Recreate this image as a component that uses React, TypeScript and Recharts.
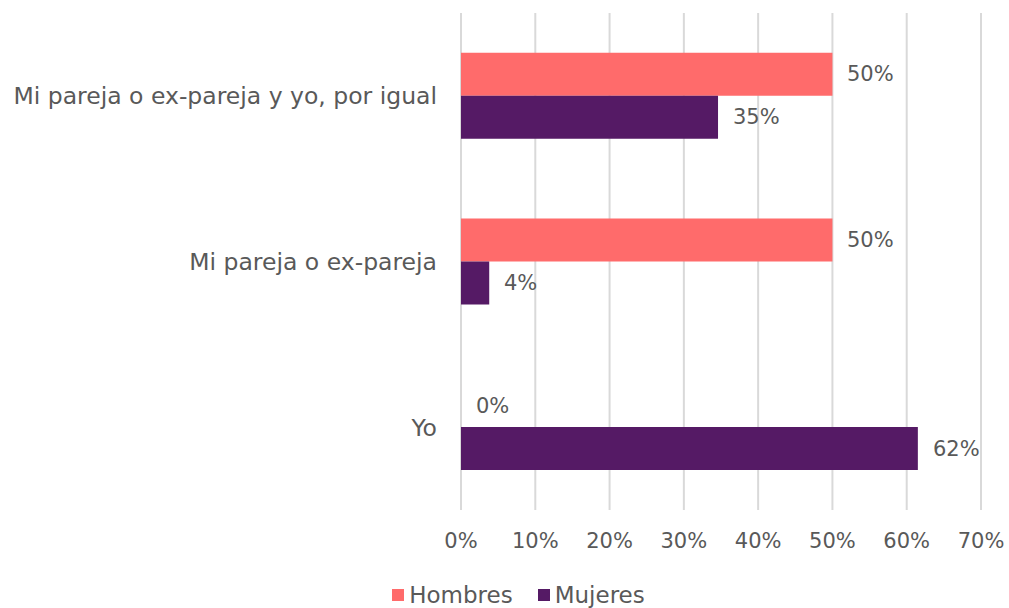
import { BarChart, Bar, XAxis, YAxis, CartesianGrid, Legend, LabelList } from 'recharts'

const categories = ['Mi pareja o ex-pareja y yo, por igual', 'Mi pareja o ex-pareja', 'Yo']
const hombres = [0.5, 0.5, 0]
const mujeres = [0.346, 0.038, 0.615]
const xTicks = [0, 0.1, 0.2, 0.3, 0.4, 0.5, 0.6, 0.7]

const GRAY = '#595959'
const FONT = "'DejaVu Sans', sans-serif"
const COLORS = { Hombres: '#ff6b6b', Mujeres: '#551a65' }

const data = categories.map((name, i) => ({
  name,
  Hombres: hombres[i],
  Mujeres: mujeres[i],
}))

const pct = (v: number) => `${Math.round(v * 100)}%`

const renderValue = (props: any) => {
  const { x, y, width, height, value } = props
  return (
    <text
      x={Number(x) + Math.round(Number(width)) + 15}
      y={Number(y) + Number(height) / 2}
      dominantBaseline="central"
      fill={GRAY}
      fontSize={21}
      fontFamily={FONT}
    >
      {pct(Number(value))}
    </text>
  )
}

const renderLegend = () => (
  <div style={{ display: 'flex', justifyContent: 'center', gap: 25, paddingTop: 10, paddingLeft: 56 }}>
    {(['Hombres', 'Mujeres'] as const).map((k) => (
      <div key={k} style={{ display: 'flex', alignItems: 'center', gap: 5 }}>
        <span style={{ width: 12, height: 12, background: COLORS[k], display: 'inline-block' }} />
        <span style={{ color: GRAY, fontSize: 23, fontFamily: FONT }}>{k}</span>
      </div>
    ))}
  </div>
)

export default function App() {
  return (
    <div style={{ position: 'absolute', left: 0, top: 0, background: '#fff', fontFamily: FONT }}>
      <BarChart
        width={1009}
        height={608}
        data={data}
        layout="vertical"
        margin={{ top: 13, right: 28, bottom: 0, left: 0 }}
        barCategoryGap="24%"
        barGap={0}
      >
        <CartesianGrid horizontal={false} stroke="#d9d9d9" strokeWidth={2} />
        <XAxis
          type="number"
          domain={[0, 0.7]}
          ticks={xTicks}
          tickFormatter={pct}
          axisLine={false}
          tickLine={false}
          tickSize={0}
          tickMargin={23}
          height={62}
          tick={{ fill: GRAY, fontSize: 21, fontFamily: FONT }}
        />
        <YAxis
          type="category"
          dataKey="name"
          width={461}
          axisLine={false}
          tickLine={false}
          tickSize={0}
          tickMargin={24}
          tick={{ fill: GRAY, fontSize: 23.5, fontFamily: FONT }}
        />
        <Legend verticalAlign="bottom" height={36} content={renderLegend} />
        {/* tiny min size keeps the 0% bar (and its label) in the list */}
        <Bar dataKey="Hombres" fill={COLORS.Hombres} minPointSize={0.01} isAnimationActive={false}>
          <LabelList dataKey="Hombres" content={renderValue} />
        </Bar>
        <Bar dataKey="Mujeres" fill={COLORS.Mujeres} isAnimationActive={false}>
          <LabelList dataKey="Mujeres" content={renderValue} />
        </Bar>
      </BarChart>
    </div>
  )
}
